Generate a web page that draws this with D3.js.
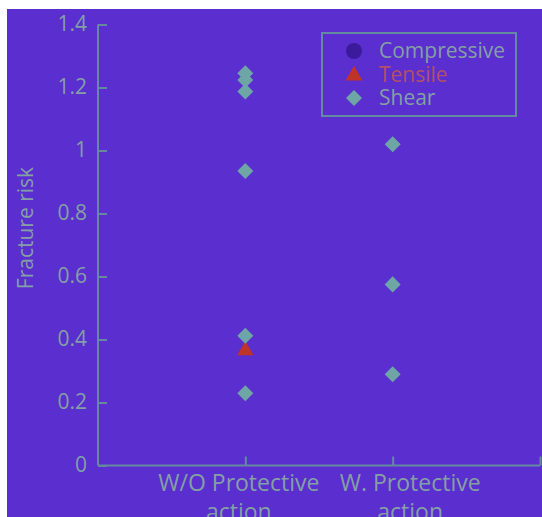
<!DOCTYPE html>
<html><head><meta charset="utf-8">
<script src="https://cdn.jsdelivr.net/npm/d3@7"></script>
<style>html,body{margin:0;padding:0;background:#fff;}svg{display:block;}</style>
</head><body>
<script>
const categories = ["W/O Protective action", "W. Protective action"];
const yTicks = [0, 0.2, 0.4, 0.6, 0.8, 1, 1.2, 1.4];
const seriesNames = ["Compressive", "Tensile", "Shear"];
const compressive = []; // [categoryIndex, value]
const tensile = [[0, 0.365]];
const shear = [[0, 1.245], [0, 1.224], [0, 1.187], [0, 0.935], [0, 0.412], [0, 0.229],
               [1, 1.02], [1, 0.575], [1, 0.29]];

const W = 542, H = 517;
const bg = "#5a2ecf", axisCol = "#638a9e", textCol = "#84a0a4";
const colors = {Compressive: "#3c1a9c", Tensile: "#bf3328", Shear: "#6ea6a6"};
const font = "'Open Sans', sans-serif";

const svg = d3.select("body").append("svg").attr("width", W).attr("height", H);
svg.append("rect").attr("x", 7).attr("y", 9).attr("width", W - 7).attr("height", H - 9).attr("fill", bg);

const x = d3.scaleLinear().domain([0, 3]).range([98, 540]);
const y = d3.scaleLinear().domain([0, 1.4]).range([465.5, 24.5]);

const yAxis = svg.append("g").attr("transform", `translate(${x(0)},0)`)
  .call(d3.axisLeft(y).tickValues(yTicks).tickFormat(d => d3.format("")(+d.toFixed(1))).tickSize(-9).tickSizeOuter(0).tickPadding(11));
const xAxis = svg.append("g").attr("transform", `translate(0,${y(0)})`)
  .call(d3.axisBottom(x).tickValues([1, 2, 3]).tickFormat(d => categories[d - 1] || "").tickSize(-9).tickSizeOuter(0).tickPadding(0));

[yAxis, xAxis].forEach(g => {
  g.selectAll("path, line").attr("stroke", axisCol).attr("stroke-width", 2);
  g.selectAll("text").attr("fill", textCol).style("font-family", font).style("font-size", "21px");
});
yAxis.select(".domain").attr("d", `M0,${y(1.4)}V${y(0)}`);
xAxis.select(".domain").attr("d", `M${x(0)},0H${x(3)}`);
yAxis.selectAll("text").attr("dy", "0.3em");

// wrap x labels (label shifts mimic the reference rendering)
const labelShift = [-7, 17];
xAxis.selectAll(".tick text").each(function(d) {
  const label = categories[d - 1];
  const t = d3.select(this);
  t.text(null).style("font-size", "23px").attr("y", 0).attr("dy", null);
  if (!label) return;
  const idx = label.lastIndexOf(" ");
  const lines = [label.slice(0, idx), label.slice(idx + 1)];
  lines.forEach((ln, i) => {
    t.append("tspan").attr("x", labelShift[d - 1]).attr("y", 25 + i * 29).text(ln);
  });
});

// y label
svg.append("text").attr("transform", `translate(33,228) rotate(-90)`)
  .attr("text-anchor", "middle").attr("fill", textCol)
  .style("font-family", font).style("font-size", "21px").text("Fracture risk");

const diamond = d3.symbol().type(d3.symbolSquare).size(128)();
const tri = d3.symbol().type(d3.symbolTriangle).size(118)();

svg.append("g").selectAll("circle").data(compressive).join("circle")
  .attr("cx", d => x(d[0] + 1)).attr("cy", d => y(d[1])).attr("r", 8).attr("fill", colors.Compressive);
svg.append("g").selectAll("path").data(tensile).join("path")
  .attr("d", tri).attr("transform", d => `translate(${x(d[0] + 1)},${y(d[1])})`).attr("fill", colors.Tensile);
svg.append("g").selectAll("path").data(shear).join("path")
  .attr("d", diamond).attr("transform", d => `translate(${x(d[0] + 1)},${y(d[1])}) rotate(45)`).attr("fill", colors.Shear);

// legend
const lg = svg.append("g");
lg.append("rect").attr("x", 322).attr("y", 33).attr("width", 194).attr("height", 83)
  .attr("fill", "none").attr("stroke", axisCol).attr("stroke-width", 2);
seriesNames.forEach((name, i) => {
  const cy = 51 + i * 23.5;
  const sx = 354;
  if (name === "Compressive") lg.append("circle").attr("cx", sx).attr("cy", cy).attr("r", 8).attr("fill", colors[name]);
  else if (name === "Tensile") lg.append("path").attr("d", d3.symbol().type(d3.symbolTriangle).size(125)()).attr("transform", `translate(${sx},${cy + 1})`).attr("fill", colors[name]);
  else lg.append("path").attr("d", diamond).attr("transform", `translate(${sx},${cy}) rotate(45)`).attr("fill", colors[name]);
  lg.append("text").attr("x", 379).attr("y", cy).attr("dy", "0.35em").attr("fill", name === "Tensile" ? "#b2506a" : textCol)
    .style("font-family", font).style("font-size", "21px").text(name);
});
</script>
</body></html>
